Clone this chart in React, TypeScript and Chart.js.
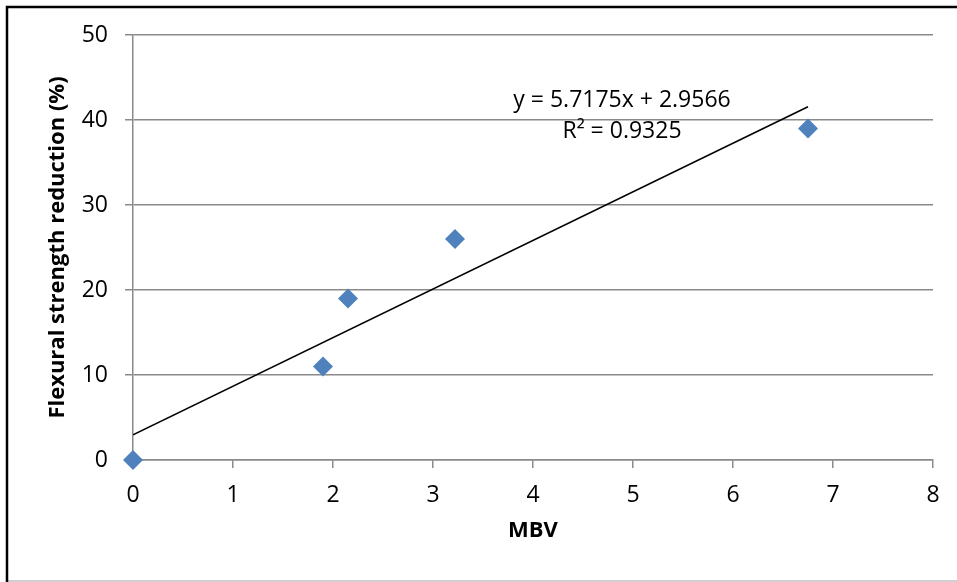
import React, { useEffect, useRef } from "react";
import { Chart, registerables } from "chart.js";

Chart.register(...registerables);

const mbv: number[] = [0, 1.9, 2.15, 3.22, 6.75];
const reduction: number[] = [0, 11, 19, 26, 39];
const slope = 5.7175;
const intercept = 2.9566;
const equationText = "y = 5.7175x + 2.9566";
const r2Text = "R\u00b2 = 0.9325";
const xTitle = "MBV";
const yTitle = "Flexural strength reduction (%)";

const FONT = "'Open Sans', 'Noto Sans', sans-serif";

export default function App() {
  const ref = useRef<HTMLCanvasElement | null>(null);

  useEffect(() => {
    document.body.style.margin = "0";
    const canvas = ref.current;
    if (!canvas) return;

    const xMax = Math.max(...mbv);
    const trend = [
      { x: 0, y: intercept },
      { x: xMax, y: slope * xMax + intercept },
    ];

    const decor = {
      id: "decor",
      beforeDraw(chart: any) {
        const ctx = chart.ctx;
        ctx.save();
        ctx.fillStyle = "#fff";
        ctx.fillRect(0, 0, chart.width, chart.height);
        ctx.restore();
      },
      afterDraw(chart: any) {
        const ctx = chart.ctx;
        const ca = chart.chartArea;
        ctx.save();
        // outer frame
        ctx.strokeStyle = "#c0c0c0";
        ctx.lineWidth = 1.5;
        ctx.beginPath();
        ctx.moveTo(7, 581);
        ctx.lineTo(chart.width, 581);
        ctx.stroke();
        ctx.strokeStyle = "#000";
        ctx.lineWidth = 2.5;
        ctx.beginPath();
        ctx.moveTo(7, chart.height);
        ctx.lineTo(7, 7);
        ctx.lineTo(chart.width, 7);
        ctx.stroke();

        // equation
        ctx.fillStyle = "#000";
        ctx.font = `23px ${FONT}`;
        ctx.textAlign = "center";
        ctx.textBaseline = "middle";
        ctx.fillText(equationText, 622, 100);
        ctx.fillText(r2Text, 622, 131);

        // axis titles
        ctx.font = `bold 22px ${FONT}`;
        ctx.fillText(xTitle, (ca.left + ca.right) / 2, 531);
        ctx.translate(58, (ca.top + ca.bottom) / 2);
        ctx.rotate(-Math.PI / 2);
        ctx.fillText(yTitle, 0, 0);
        ctx.restore();
      },
    };

    const gridColor = "#8a8a8a";

    const chart = new Chart(canvas, {
      type: "scatter",
      data: {
        datasets: [
          {
            type: "line",
            data: trend,
            borderColor: "#000",
            borderWidth: 1.6,
            pointRadius: 0,
            fill: false,
          } as any,
          {
            type: "scatter",
            data: mbv.map((x, i) => ({ x, y: reduction[i] })),
            pointStyle: "rectRot",
            pointRadius: 10,
            backgroundColor: "#4f81bd",
            borderColor: "#4f81bd",
            borderWidth: 0,
            clip: false,
          } as any,
        ],
      },
      options: {
        animation: false,
        responsive: false,
        devicePixelRatio: 1,
        layout: { padding: { left: 0, top: 35, right: 24, bottom: 0 } },
        plugins: {
          legend: { display: false },
          tooltip: { enabled: false },
        },
        scales: {
          x: {
            type: "linear",
            min: 0,
            max: 8,
            ticks: {
              stepSize: 1,
              color: "#000",
              font: { family: FONT, size: 23 },
              padding: 14,
            },
            grid: {
              drawOnChartArea: false,
              drawTicks: true,
              tickLength: 8,
              color: gridColor,
              lineWidth: 1.5,
            },
            border: { display: true, color: gridColor, width: 1.5 },
            afterFit: (s: any) => {
              s.height = 122;
            },
          },
          y: {
            type: "linear",
            min: 0,
            max: 50,
            ticks: {
              stepSize: 10,
              color: "#000",
              font: { family: FONT, size: 23 },
              padding: 17,
            },
            grid: {
              drawTicks: true,
              tickLength: 8,
              color: gridColor,
              lineWidth: 1.5,
            },
            border: { display: true, color: gridColor, width: 1.5 },
            afterFit: (s: any) => {
              s.width = 133;
            },
          },
        },
      },
      plugins: [decor],
    });

    return () => chart.destroy();
  }, []);

  return <canvas ref={ref} width={957} height={582} style={{ display: "block" }} />;
}
